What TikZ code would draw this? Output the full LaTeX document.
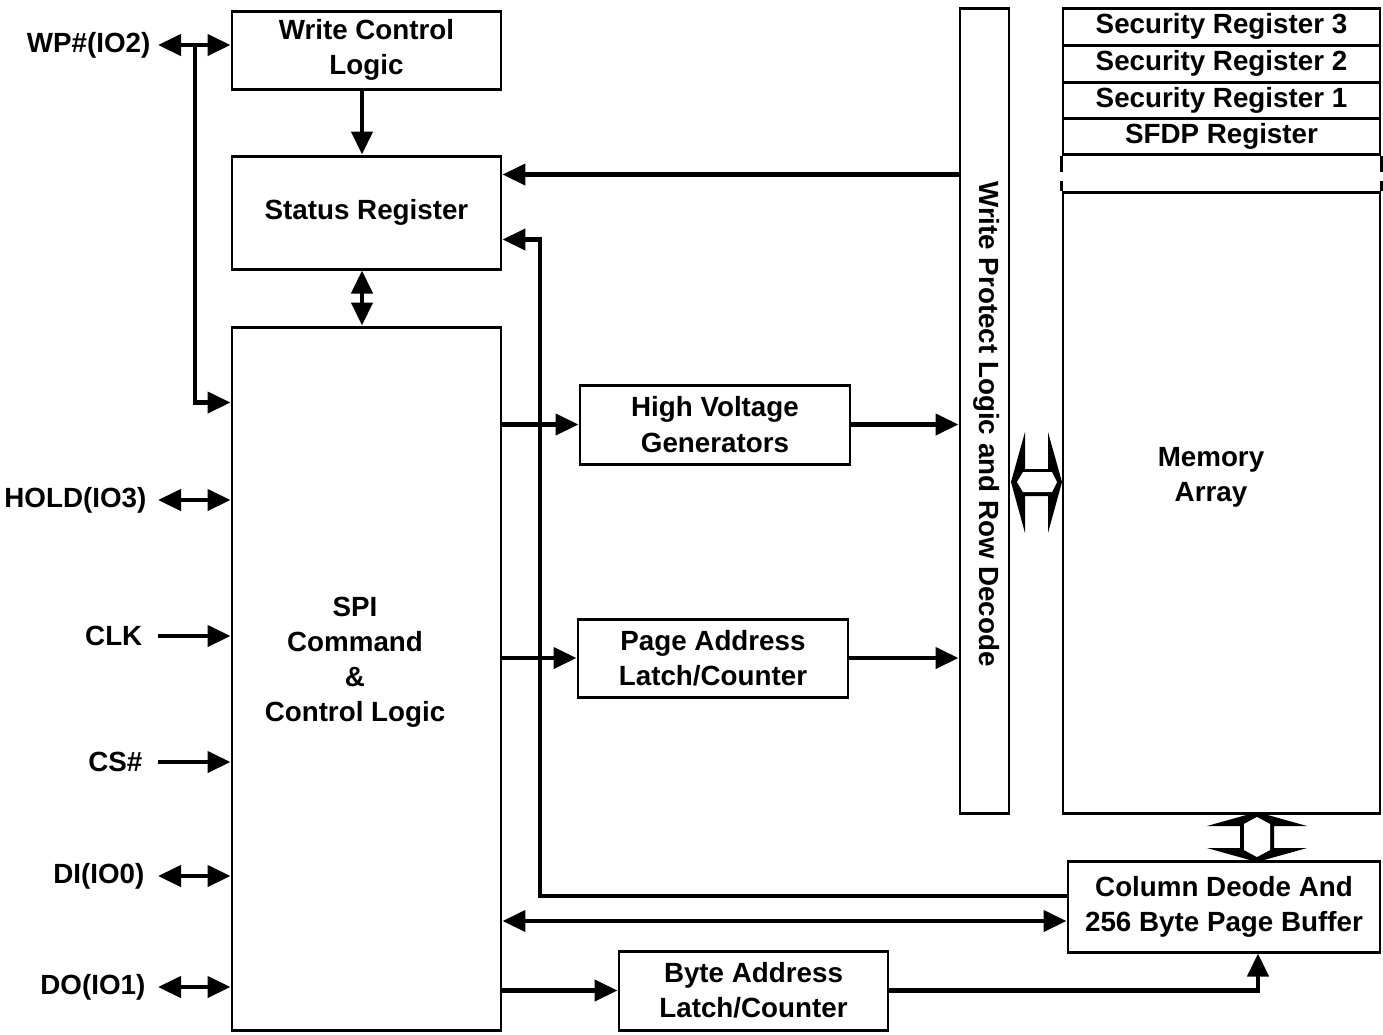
\documentclass[tikz,border=0pt]{standalone}
\usepackage{fontspec}
\setmainfont{Liberation Sans}
\usetikzlibrary{arrows.meta, calc}
\newcommand{\fsz}{\fontsize{7.9}{10}\selectfont}
\tikzset{
  blk/.style={draw, line width=0.85pt, inner sep=0pt, align=center,
              font=\fsz\bfseries},
  blktxt/.style={inner sep=0pt, align=center, font=\fsz\bfseries},
  pinlbl/.style={anchor=east, inner sep=0pt, font=\fsz\bfseries},
  sig/.style={line width=1.2pt, -{Triangle[length=2.3mm, width=2.1mm]}},
  bidir/.style={line width=1.2pt,
                {Triangle[length=2.3mm, width=2.1mm]}-{Triangle[length=2.3mm, width=2.1mm]}},
  bus/.style={fill=black},
}

\begin{document}
\begin{tikzpicture}[x=0.1mm, y=-0.1mm]
    \useasboundingbox (0,0) rectangle (1383,1034);
    % control side
    \node[blk, minimum width=26.9mm, minimum height=7.8mm]  (wcl) at (366.5,50)  {Write Control\\Logic};
    \node[blk, minimum width=26.9mm, minimum height=11.3mm] (sr)  at (366.5,212.5) {Status Register};
    \node[blk, minimum width=26.9mm, minimum height=70.3mm] (spi) at (366.5,678.5) {};
    \node[blktxt] (spitxt) at (355,662) {SPI\\Command\\\&\\Control Logic};
    \node[blk, minimum width=27mm, minimum height=7.9mm]    (hvg) at (715,424.5) {High Voltage\\Generators};
    \node[blk, minimum width=27mm, minimum height=7.8mm]    (pal) at (713,658)   {Page Address\\Latch/Counter};
    \node[blk, minimum width=26.9mm, minimum height=7.9mm]  (bal) at (753.5,990.5) {Byte Address\\Latch/Counter};
    % array side
    \node[blk, minimum width=4.9mm, minimum height=80.5mm] (wpl) at (984.5,410.5) {};
    \node[blktxt, rotate=-90] (wpltxt) at (987,424) {Write Protect Logic and Row Decode};
    \node[blk, minimum width=31.7mm, minimum height=3.7mm] (sec3) at (1221.5,26.5) {Security Register 3};
    \node[blk, minimum width=31.7mm, minimum height=3.7mm] (sec2) at (1221.5,63.5) {Security Register 2};
    \node[blk, minimum width=31.7mm, minimum height=3.6mm] (sec1) at (1221.5,100)  {Security Register 1};
    \node[blk, minimum width=31.7mm, minimum height=3.6mm] (sfdp) at (1221.5,136)  {SFDP Register};
    \node[blk, minimum width=31.7mm, minimum height=62.1mm] (mem) at (1221.5,502.5) {};
    \node[blktxt] (memtxt) at (1211,477) {Memory\\Array};
    \node[blk, minimum width=31.2mm, minimum height=9.1mm] (col) at (1224,906.5) {Column Deode And\\256 Byte Page Buffer};
    \draw[line width=0.85pt, dash pattern=on 1.6mm off 0.9mm] (sfdp.south west) -- (mem.north west);
    \draw[line width=0.85pt, dash pattern=on 1.6mm off 0.9mm] (sfdp.south east) -- (mem.north east);
    % pins
    \node[pinlbl] (wp)   at (151,45)  {WP\#(IO2)};
    \node[pinlbl] (hold) at (147,500) {HOLD(IO3)};
    \node[pinlbl] (clk)  at (143,636) {CLK};
    \node[pinlbl] (cs)   at (143,762) {CS\#};
    \node[pinlbl] (di)   at (145,876) {DI(IO0)};
    \node[pinlbl] (do)   at (146,987) {DO(IO1)};
    \coordinate (pinx) at (158,0);
    \coordinate (wpj)  at (195,45);
    \draw[bidir] (wp -| pinx)   -- (wp -| wcl.west);
    \draw[bidir] (hold -| pinx) -- (hold -| spi.west);
    \draw[sig]   (clk -| pinx)  -- (clk -| spi.west);
    \draw[sig]   (cs -| pinx)   -- (cs -| spi.west);
    \draw[bidir] (di -| pinx)   -- (di -| spi.west);
    \draw[bidir] (do -| pinx)   -- (do -| spi.west);
    \draw[sig] (wpj) |- ([yshift=-7.7mm]spi.north west);
    % internal paths
    \draw[sig]   ([xshift=-0.45mm]wcl.south) -- ([xshift=-0.45mm]sr.north);
    \draw[bidir] ([xshift=-0.45mm]sr.south)  -- ([xshift=-0.45mm]spi.north);
    \coordinate (srin) at ([yshift=-2mm]sr.north east);
    \coordinate (srfb) at ([yshift=3.1mm]sr.south east);
    \coordinate (colfb)  at ([yshift=1.05mm]col.west);
    \coordinate (colbus) at ([yshift=-1.45mm]col.west);
    \coordinate (colin)  at ([xshift=3.4mm]col.south);
    \coordinate (busx) at (540,0);
    \draw[sig] (srin -| wpl.west) -- (srin);
    \draw[sig] (colfb) -- (colfb -| busx) |- (srfb);
    \draw[sig] (hvg.west -| spi.east) -- (hvg.west);
    \draw[sig] (hvg.east) -- (hvg.east -| wpl.west);
    \draw[sig] (pal.west -| spi.east) -- (pal.west);
    \draw[sig] (pal.east) -- (pal.east -| wpl.west);
    \draw[bidir] (colbus -| spi.east) -- (colbus);
    \draw[sig] (bal.west -| spi.east) -- (bal.west);
    \draw[sig] (bal.east) -| (colin);
    % wide buses
    \fill[bus] (1011,482) -- ++(14,-50) -- ++(0,37) -- ++(23,0) -- ++(0,-37) -- ++(14,50)
               -- ++(-14,51) -- ++(0,-37) -- ++(-23,0) -- ++(0,37) -- cycle;
    \fill[white] (1017,482) -- (1023,472) -- (1052,472) -- (1057,482) -- (1052,492) -- (1023,492) -- cycle;
    \fill[bus] (1257,812) -- (1307,826) -- (1274,826) -- (1274,848) -- (1307,848) -- (1257,862)
               -- (1207,848) -- (1240,848) -- (1240,826) -- (1207,826) -- cycle;
    \fill[white] (1257,817) -- (1270,824) -- (1270,850) -- (1257,857) -- (1244,850) -- (1244,824) -- cycle;
\end{tikzpicture}
\end{document}
